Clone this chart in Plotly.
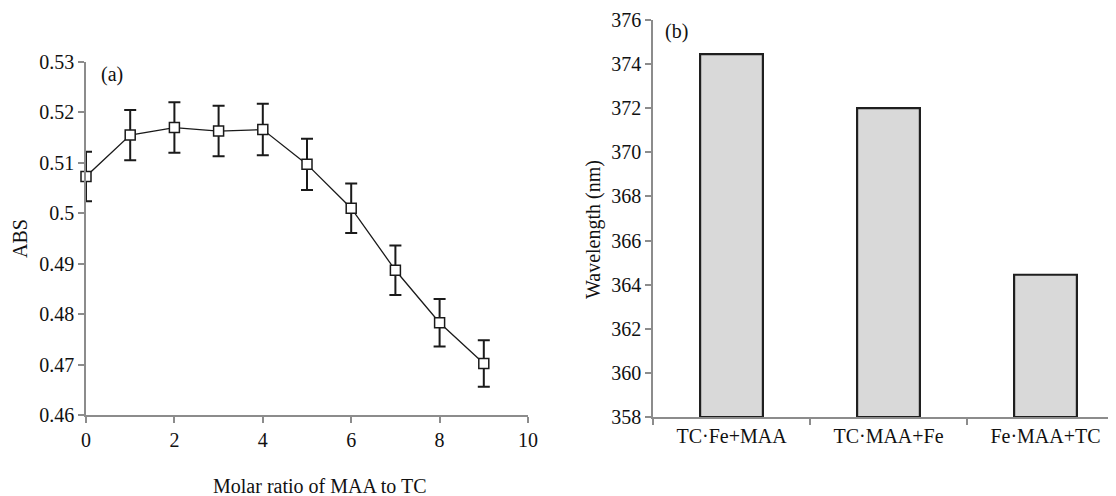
import plotly.graph_objects as go

# ---- data (a) ----
molar_ratio = [0, 1, 2, 3, 4, 5, 6, 7, 8, 9]
abs_values = [0.5073, 0.5155, 0.5170, 0.5163, 0.5166, 0.5097, 0.5010, 0.4887, 0.4783, 0.4702]
abs_errors = [0.0049, 0.0050, 0.0050, 0.0050, 0.0051, 0.0051, 0.0049, 0.0049, 0.0047, 0.0046]
abs_tickvals = [0.46, 0.47, 0.48, 0.49, 0.50, 0.51, 0.52, 0.53]
abs_ticktext = ["0.46", "0.47", "0.48", "0.49", "0.5", "0.51", "0.52", "0.53"]
ratio_ticks = [0, 2, 4, 6, 8, 10]

# ---- data (b) ----
complexes = ["TC·Fe+MAA", "TC·MAA+Fe", "Fe·MAA+TC"]
wavelengths = [374.45, 372.0, 364.45]
wl_ticks = [358, 360, 362, 364, 366, 368, 370, 372, 374, 376]

W, H = 1116, 496
OFF = 8  # page body margin in the browser
FONT = "Liberation Serif, Times New Roman, serif"
AXC = "#8c8c8c"
FS = 20

def px(x):
    return (x - OFF) / W

def py(y):
    return 1 - (y - OFF) / H

fig = go.Figure()

fig.add_trace(go.Scatter(
    x=molar_ratio, y=abs_values, mode="lines+markers",
    line=dict(color="#1a1a1a", width=1.3),
    marker=dict(symbol="square", size=10, color="white",
                line=dict(color="#1a1a1a", width=1.5)),
    error_y=dict(type="data", array=abs_errors, visible=True,
                 color="#1a1a1a", thickness=2, width=6),
    xaxis="x", yaxis="y", showlegend=False, cliponaxis=False,
))

fig.add_trace(go.Bar(
    x=complexes, y=[v - 358 for v in wavelengths], base=358,
    marker=dict(color="#d9d9d9", line=dict(color="#1f1f1f", width=2.2)),
    width=0.4, xaxis="x2", yaxis="y2", showlegend=False,
))

tickfont = dict(family=FONT, size=FS, color="#111")
common = dict(showgrid=False, zeroline=False, showline=True, linecolor=AXC,
              linewidth=1.5, ticks="outside", ticklen=6, tickcolor=AXC,
              tickwidth=1.5, tickfont=tickfont, automargin=False)

x2_right = 1.0
x2_span_px = W * (x2_right - px(653))

fig.update_layout(
    template="none",
    width=W, height=H,
    margin=dict(l=0, r=0, t=0, b=0, pad=0),
    paper_bgcolor="white", plot_bgcolor="white",
    font=dict(family=FONT, size=FS, color="#111"),
    xaxis=dict(domain=[px(86), px(528)], range=[0, 10], tickvals=ratio_ticks,
               anchor="y", **common),
    yaxis=dict(domain=[py(415), py(62)], range=[0.46, 0.53],
               tickvals=abs_tickvals, ticktext=abs_ticktext, anchor="x", **common),
    xaxis2=dict(domain=[px(653), x2_right], range=[-0.5, -0.5 + x2_span_px / 157.0],
                type="category", tickson="boundaries", anchor="y2", **common),
    yaxis2=dict(domain=[py(417), py(20)], range=[358, 376], tickvals=wl_ticks,
                anchor="x2", **common),
    bargap=0.6,
)

ann_font = dict(family=FONT, size=FS, color="#111")
def label(x, y, text, angle=0):
    fig.add_annotation(x=px(x), y=py(y), xref="paper", yref="paper",
                       xanchor="center", yanchor="middle",
                       text=text, textangle=angle, showarrow=False, font=ann_font)

label(320, 486, "Molar ratio of MAA to TC")
label(20, 239, "ABS", -90)
label(594, 230, "Wavelength (nm)", -90)
label(112, 75, "(a)")
label(676, 32, "(b)")

fig.write_html("out.html")
